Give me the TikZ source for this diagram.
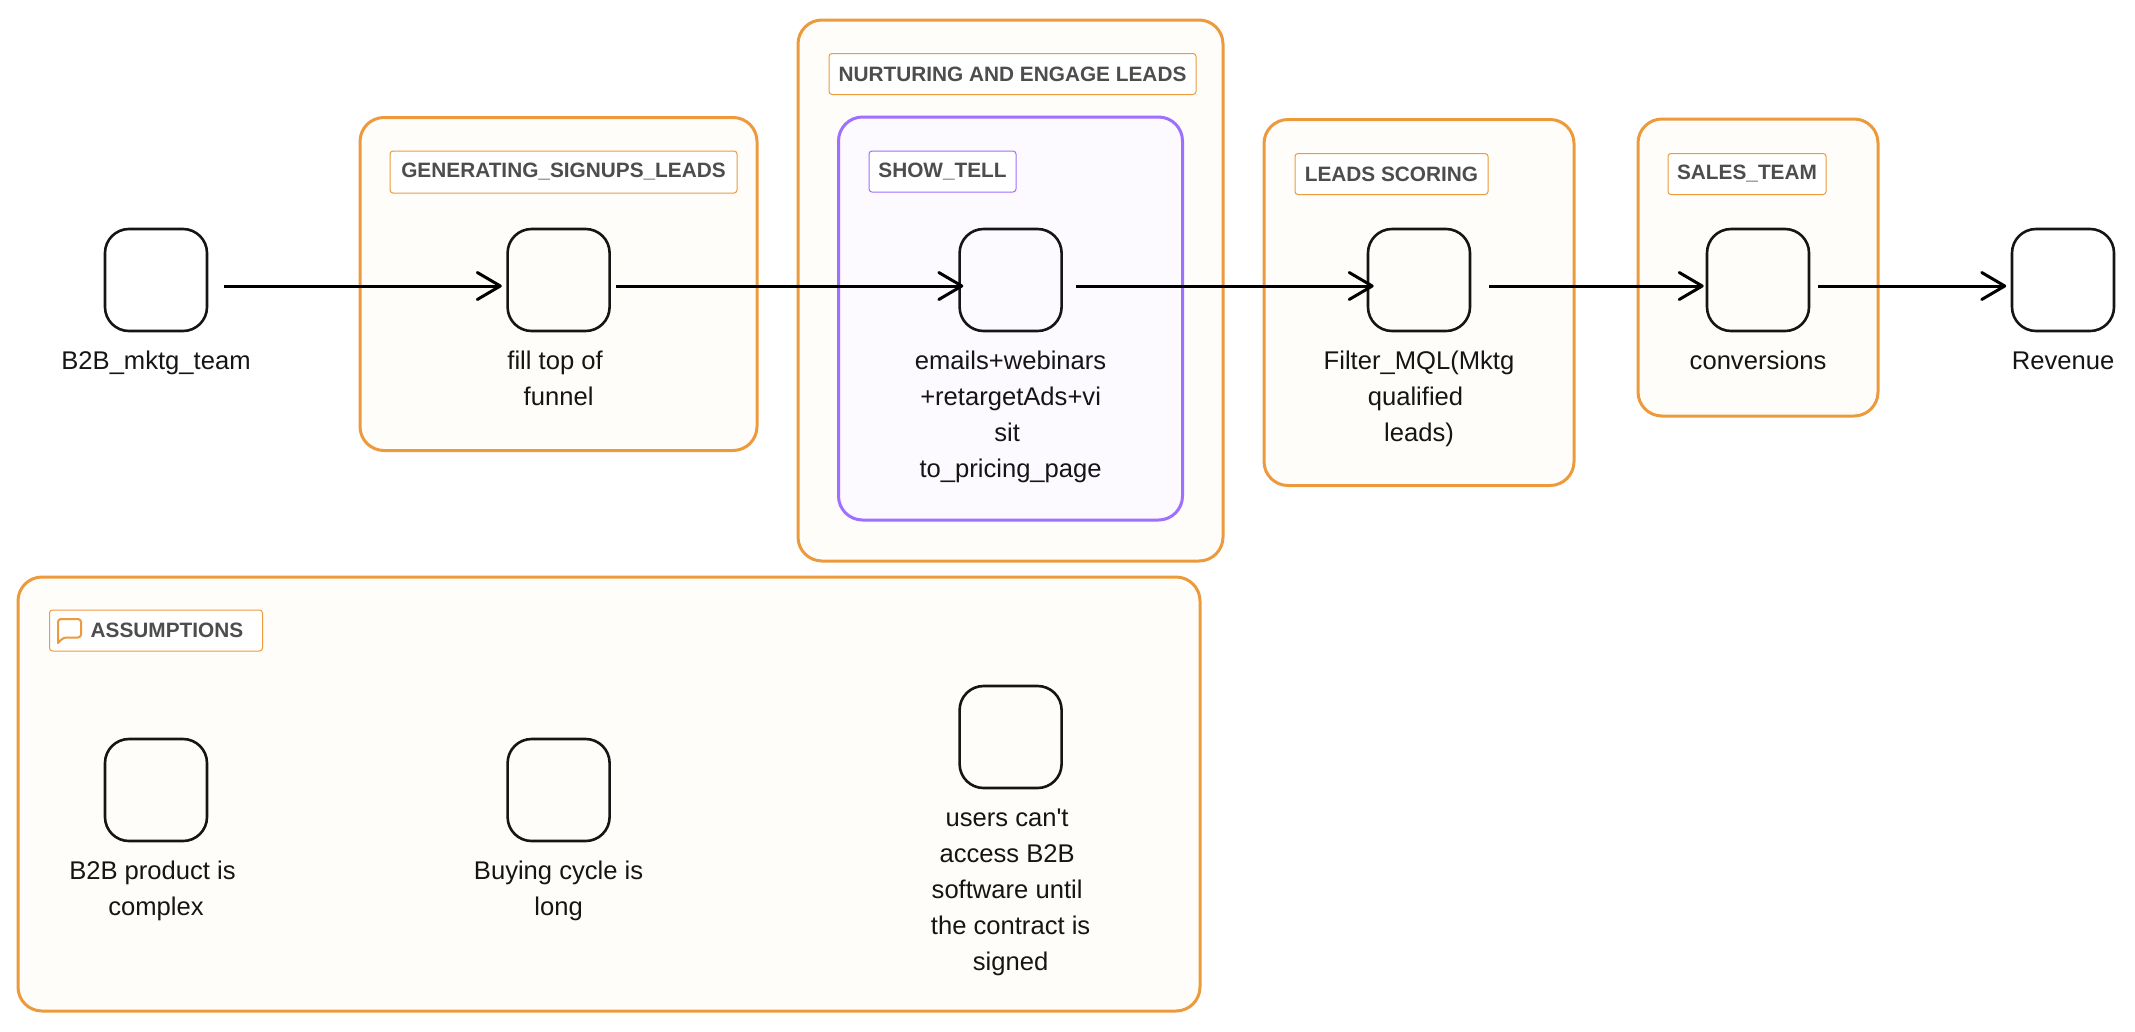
\documentclass[tikz,border=0pt]{standalone}
\usepackage{fontspec}
\setmainfont{Liberation Sans}[Ligatures=TeXOff]
\usetikzlibrary{arrows.meta}
\definecolor{groupline}{HTML}{EC9A3C}
\definecolor{groupfill}{HTML}{FFFDF9}
\definecolor{innerline}{HTML}{9F6FFF}
\definecolor{innerfill}{HTML}{FCFAFF}
\definecolor{labeltext}{HTML}{4D4D4D}
\definecolor{inkline}{HTML}{151515}
\newcommand{\tsp}{\kern7pt}
\tikzset{
  groupbox/.style={draw=groupline,fill=groupfill,line width=3pt,rounded corners=24pt,inner sep=0pt},
  innerbox/.style={draw=innerline,fill=innerfill,line width=3pt,rounded corners=24pt,inner sep=0pt},
  tagtext/.style={inner sep=0pt,text=labeltext,font=\fontsize{20.8}{24}\selectfont\bfseries},
  tag/.style={tagtext,draw=groupline,fill=white,line width=1pt,rounded corners=3pt},
  innertag/.style={tag,draw=innerline},
  item/.style={draw=inkline,line width=2.6pt,rounded corners=24pt,minimum width=102pt,minimum height=102pt,inner sep=0pt},
  caption/.style={anchor=north,inner sep=0pt,align=center,text=inkline,font=\fontsize{25.6}{36}\selectfont},
  flow/.style={draw=black,line width=3pt,-{Straight Barb[length=23pt,width=27pt,line width=3pt,round]}},
  bubble/.style={draw=groupline,line width=2pt,line join=round}
}
\begin{document}
\begin{tikzpicture}[x=1pt,y=-1pt]
\useasboundingbox (0,0) rectangle (2135,1031);
\fill[white] (0,0) rectangle (2135,1031);
% groups
\node[groupbox,minimum width=397pt,minimum height=333pt] (g1) at (558.5,284) {};
\node[groupbox,minimum width=425pt,minimum height=541pt] (g2) at (1010.5,290.5) {};
\node[innerbox,minimum width=344pt,minimum height=403pt] (g3) at (1010.5,318.5) {};
\node[groupbox,minimum width=310pt,minimum height=366pt] (g4) at (1419,302.5) {};
\node[groupbox,minimum width=240pt,minimum height=297pt] (g5) at (1758,267.5) {};
\node[groupbox,minimum width=1182pt,minimum height=434pt] (g6) at (609,794) {};
% group tags
\node[tag,minimum width=347pt,minimum height=42pt] (l1) at (563.5,172) {GENERATING\_SIGNUPS\_LEADS};
\node[tag,minimum width=367pt,minimum height=41pt] (l2) at (1012.5,74) {NURTURING AND ENGAGE LEADS};
\node[innertag,minimum width=147pt,minimum height=41pt] (l3) at (942.5,171.5) {SHOW\_TELL};
\node[tag,minimum width=193pt,minimum height=41pt] (l4) at (1391.5,174) {LEADS SCORING};
\node[tag,minimum width=158pt,minimum height=41pt] (l5) at (1747,174) {SALES\_TEAM};
\node[tag,minimum width=213pt,minimum height=41pt] (l6) at (156,630.5) {};
\node[tagtext,anchor=west] (l6t) at (90.5,630.5) {ASSUMPTIONS};
\draw[bubble] (58,643) [rounded corners=3pt] -- (58,619) -- (81,619) -- (81,637.5) -- (63.5,637.5) [sharp corners] -- cycle;
% items
\node[item] (n1) at (156,280) {};
\node[item] (n2) at (558.6,280) {};
\node[item] (n3) at (1010.6,280) {};
\node[item] (n4) at (1419,280) {};
\node[item] (n5) at (1758,280) {};
\node[item] (n6) at (2063,280) {};
\node[item] (a1) at (156,790) {};
\node[item] (a2) at (558.6,790) {};
\node[item] (a3) at (1010.6,737) {};
% captions
\node[caption] (c1) at (156,344) {\strut B2B\_mktg\_team};
\node[caption] (c2) at (558.6,344) {\strut fill top of\tsp\\\strut funnel};
\node[caption] (c3) at (1010.6,344) {\strut emails+webinars\\\strut +retargetAds+vi\\\strut sit\tsp\\\strut to\_pricing\_page};
\node[caption] (c4) at (1419,344) {\strut Filter\_MQL(Mktg\\\strut qualified\tsp\\\strut leads)};
\node[caption] (c5) at (1758,344) {\strut conversions};
\node[caption] (c6) at (2063,344) {\strut Revenue};
\node[caption] (d1) at (156,854) {\strut B2B product is\tsp\\\strut complex};
\node[caption] (d2) at (558.6,854) {\strut Buying cycle is\\\strut long};
\node[caption] (d3) at (1010.6,801) {\strut users can't\tsp\\\strut access B2B\tsp\\\strut software until\tsp\\\strut the contract is\\\strut signed};
% connectors
\draw[flow,shorten <=16pt,shorten >=4.5pt] ([yshift=-6pt]n1.east) -- ([yshift=-6pt]n2.west);
\draw[flow,shorten <=5.5pt,shorten >=-5pt] ([yshift=-6pt]n2.east) -- ([yshift=-6pt]n3.west);
\draw[flow,shorten <=13pt,shorten >=-7pt] ([yshift=-6pt]n3.east) -- ([yshift=-6pt]n4.west);
\draw[flow,shorten <=18pt,shorten >=2pt] ([yshift=-6pt]n4.east) -- ([yshift=-6pt]n5.west);
\draw[flow,shorten <=8pt,shorten >=4.5pt] ([yshift=-6pt]n5.east) -- ([yshift=-6pt]n6.west);
\end{tikzpicture}
\end{document}
